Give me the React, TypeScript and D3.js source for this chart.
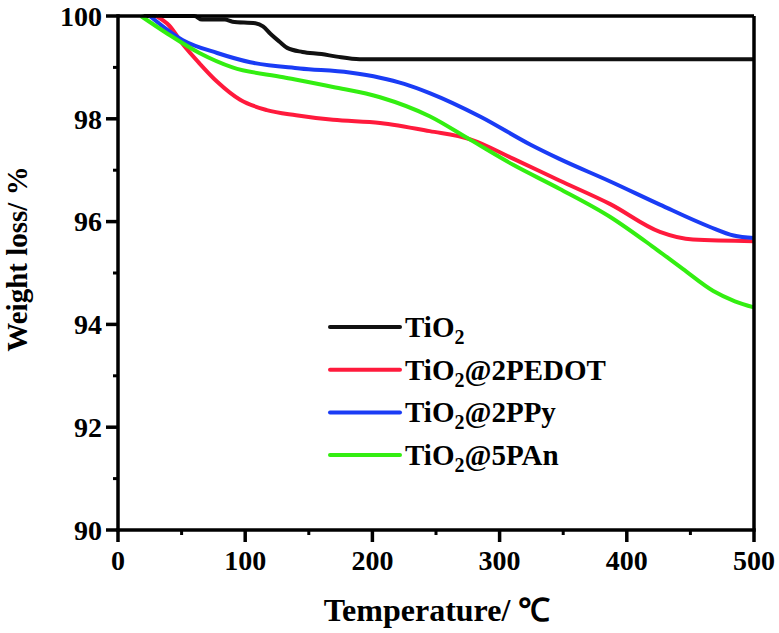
import React from "react";
import * as d3 from "d3";

const xTicks = [0, 100, 200, 300, 400, 500];
const xMinor = [50, 150, 250, 350, 450];
const yTicks = [90, 92, 94, 96, 98, 100];
const yMinor = [91, 93, 95, 97, 99];

const tio2: [number, number][] = [
  [20, 100], [60, 100], [66, 99.93], [84, 99.93], [90, 99.89], [108, 99.86], [114, 99.8],
  [120, 99.65], [127, 99.5], [133, 99.38], [145, 99.3], [160, 99.26], [172, 99.21],
  [190, 99.16], [300, 99.16], [500, 99.16],
];
const pedot: [number, number][] = [
  [30, 100], [40, 99.82], [51, 99.45], [64, 99.08], [78, 98.72], [96, 98.37], [117, 98.17],
  [140, 98.07], [169, 97.98], [206, 97.92], [245, 97.76], [277, 97.6], [311, 97.22],
  [347, 96.8], [387, 96.34], [426, 95.8], [452, 95.65], [500, 95.62],
];
const ppy: [number, number][] = [
  [25, 100], [51, 99.53], [78, 99.28], [104, 99.1], [143, 98.98], [182, 98.9], [206, 98.8],
  [225, 98.68], [245, 98.5], [285, 98.04], [324, 97.5], [347, 97.22], [387, 96.78],
  [426, 96.33], [465, 95.9], [484, 95.73], [500, 95.68],
];
const pan: [number, number][] = [
  [18, 100], [38, 99.67], [64, 99.28], [90, 99.0], [130, 98.81], [169, 98.62], [206, 98.42],
  [245, 98.05], [277, 97.59], [311, 97.1], [347, 96.64], [387, 96.09], [420, 95.52],
  [444, 95.08], [468, 94.65], [485, 94.45], [500, 94.33],
];

const seriesNames = ["TiO2", "TiO2@2PEDOT", "TiO2@2PPy", "TiO2@5PAn"];
const seriesSuffix = ["", "@2PEDOT", "@2PPy", "@5PAn"];
const seriesData = [tio2, pedot, ppy, pan];
const seriesColors = ["#111111", "#ff1a3c", "#1a3cf5", "#33ee11"];

const FONT = "'Liberation Serif', 'Times New Roman', serif";

export default function App() {
  const W = 779, H = 633;
  const x = d3.scaleLinear().domain([0, 500]).range([118, 754]);
  const y = d3.scaleLinear().domain([90, 100]).range([530, 16]);
  const line = d3
    .line<[number, number]>()
    .x((d) => x(d[0]))
    .y((d) => y(d[1]))
    .curve(d3.curveMonotoneX);
  const [x0, x1] = x.range();
  const [yb, yt] = y.range();

  return (
    <svg
      width={W}
      height={H}
      style={{ position: "absolute", left: 0, top: 0, background: "#fff" }}
      fontFamily={FONT}
      fontWeight="bold"
    >
      {seriesData.map((s, i) => (
        <path key={seriesNames[i]} d={line(s) || ""} fill="none" stroke={seriesColors[i]} strokeWidth={4} />
      ))}
      <line x1={x0} x2={x1} y1={yt} y2={yt} stroke="#000" strokeWidth={3.5} />
      <line x1={x1} x2={x1} y1={yt} y2={yb} stroke="#000" strokeWidth={3.5} />
      <line x1={x0} x2={x0} y1={yt - 1.75} y2={yb + 1.75} stroke="#000" strokeWidth={3.5} />
      <line x1={x0 - 1.75} x2={x1 + 1.75} y1={yb} y2={yb} stroke="#000" strokeWidth={3.5} />
      {yTicks.map((t) => (
        <g key={"y" + t}>
          <line x1={x0 - 12} x2={x0} y1={y(t)} y2={y(t)} stroke="#000" strokeWidth={3.5} />
          <text x={x0 - 16} y={y(t)} dy="0.35em" textAnchor="end" fontSize={28}>
            {t}
          </text>
        </g>
      ))}
      {yMinor.map((t) => (
        <line key={"ym" + t} x1={x0 - 5} x2={x0} y1={y(t)} y2={y(t)} stroke="#000" strokeWidth={3} />
      ))}
      {xTicks.map((t) => (
        <g key={"x" + t}>
          <line x1={x(t)} x2={x(t)} y1={yb} y2={yb + 12} stroke="#000" strokeWidth={3.5} />
          <text x={x(t)} y={570} textAnchor="middle" fontSize={28}>
            {t}
          </text>
        </g>
      ))}
      {xMinor.map((t) => (
        <line key={"xm" + t} x1={x(t)} x2={x(t)} y1={yb} y2={yb + 5} stroke="#000" strokeWidth={3} />
      ))}
      <text x={437} y={621} textAnchor="middle" fontSize={32}>
        Temperature/ ℃
      </text>
      <text transform="translate(27,259) rotate(-90)" textAnchor="middle" fontSize={29}>
        Weight loss/ %
      </text>
      {seriesNames.map((n, i) => {
        const ly = 327 + i * 42.7;
        return (
          <g key={"lg" + n}>
            <line x1={330} x2={400} y1={ly} y2={ly} stroke={seriesColors[i]} strokeWidth={4} strokeLinecap="round" />
            <text x={405} y={ly + 10} fontSize={29}>
              TiO
              <tspan fontSize={20} dy={7}>2</tspan>
              <tspan dy={-7}>{seriesSuffix[i]}</tspan>
            </text>
          </g>
        );
      })}
    </svg>
  );
}
